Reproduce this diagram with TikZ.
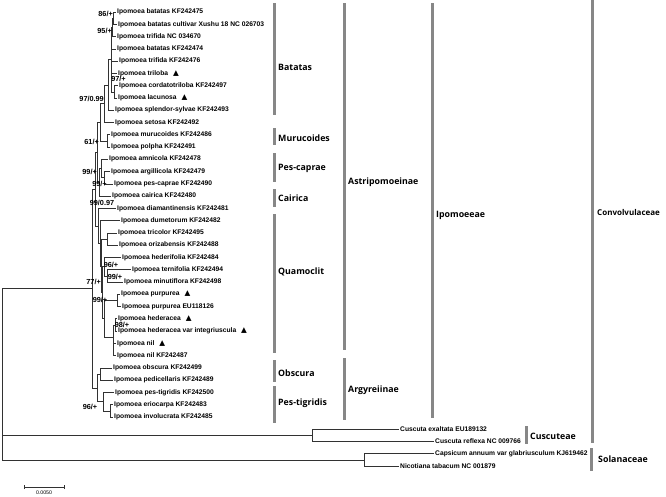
\documentclass[tikz,border=0pt]{standalone}
\usepackage{fontspec}
\setmainfont{Liberation Sans}
\newfontfamily\cladefont{Open Sans}
\newfontfamily\symfont{DejaVu Sans}
\definecolor{bargray}{RGB}{135,135,135}
\definecolor{treegray}{RGB}{50,50,50}
\tikzset{
  branch/.style={draw=treegray, line width=0.55pt},
  leaf/.style={anchor=west, inner xsep=1pt, inner ysep=0pt, font=\fontsize{6.7}{7}\selectfont\bfseries},
  support/.style={inner sep=0pt, font=\fontsize{7.3}{8}\selectfont\bfseries},
  cladebar/.style={draw=bargray, line width=3pt},
  cladename/.style={anchor=west, inner sep=0pt, font=\fontsize{8.8}{9}\selectfont\cladefont\bfseries},
  rankname/.style={anchor=west, inner sep=0pt, font=\fontsize{8.8}{9}\selectfont\cladefont\bfseries},
}
\newcommand{\tri}{\hspace{5pt}{\fontsize{7.5}{7.5}\symfont ▲}}
\begin{document}
\begin{tikzpicture}[x=1pt,y=-1pt]
\useasboundingbox (0,0) rectangle (666,496);
% tips
\foreach \n/\x/\t in {
  1/116/{Ipomoea batatas KF242475},
  2/117/{Ipomoea batatas cultivar Xushu 18 NC 026703},
  3/116/{Ipomoea trifida NC 034670},
  4/116/{Ipomoea batatas KF242474},
  5/118/{Ipomoea trifida KF242476},
  6/117/{Ipomoea triloba\tri},
  7/118/{Ipomoea cordatotriloba KF242497},
  8/117/{Ipomoea lacunosa\tri},
  9/114/{Ipomoea splendor-sylvae KF242493},
  10/114/{Ipomoea setosa KF242492},
  11/110/{Ipomoea murucoides KF242486},
  12/110/{Ipomoea polpha KF242491},
  13/108/{Ipomoea amnicola KF242478},
  14/110/{Ipomoea argillicola KF242479},
  15/113/{Ipomoea pes-caprae KF242490},
  16/111/{Ipomoea cairica KF242480},
  17/116/{Ipomoea diamantinensis KF242481},
  18/120/{Ipomoea dumetorum KF242482},
  19/117/{Ipomoea tricolor KF242495},
  20/118/{Ipomoea orizabensis KF242488},
  21/121/{Ipomoea hederifolia KF242484},
  22/131/{Ipomoea ternifolia KF242494},
  23/123/{Ipomoea minutiflora KF242498},
  24/120/{Ipomoea purpurea\tri},
  25/121/{Ipomoea purpurea EU118126},
  26/117/{Ipomoea hederacea\tri},
  27/117/{Ipomoea hederacea var integriuscula\tri},
  28/116/{Ipomoea nil\tri},
  29/116/{Ipomoea nil KF242487},
  30/112/{Ipomoea obscura KF242499},
  31/113/{Ipomoea pedicellaris KF242489},
  32/114/{Ipomoea pes-tigridis KF242500},
  33/113/{Ipomoea eriocarpa KF242483},
  34/113/{Ipomoea involucrata KF242485},
  35/399/{Cuscuta exaltata EU189132},
  36/434/{Cuscuta reflexa NC 009766},
  37/434/{Capsicum annuum var glabriusculum KJ619462},
  38/399/{Nicotiana tabacum NC 001879}}
  \node[leaf] (l\n) at (\x,{12+(\n-1)*12.27}) {\t};
% internal nodes
\coordinate (bb) at (113,18.2);
\coordinate (b95) at (112,27.4);
\coordinate (cl) at (114,91.8);
\coordinate (bat1) at (111,59.6);
\coordinate (bat2) at (108,84.9);
\coordinate (bs) at (104,103.7);
\coordinate (mu) at (107,140.8);
\coordinate (s61) at (100,122.3);
\coordinate (pc2) at (104,177.7);
\coordinate (pc) at (101,168.4);
\coordinate (pcc) at (99,182.3);
\coordinate (up) at (97,152.3);
\coordinate (to) at (107,239.1);
\coordinate (tm) at (107,275.9);
\coordinate (hm) at (104,266.7);
\coordinate (pp) at (117,300.4);
\coordinate (hh) at (115,324.9);
\coordinate (hn) at (113,337);
\coordinate (pn) at (104,318.7);
\coordinate (s77) at (102,292.7);
\coordinate (q2) at (101,265.9);
\coordinate (q) at (100,243.3);
\coordinate (lo) at (98,225.8);
\coordinate (astri) at (95,189.1);
\coordinate (obs) at (100,374);
\coordinate (ei) at (110,410.9);
\coordinate (pt) at (103,401.6);
\coordinate (argy) at (97,387.8);
\coordinate (ipo) at (92,288.5);
\coordinate (cus) at (312,435.4);
\coordinate (sol) at (364,460);
\coordinate (root) at (2,374);
% branches
\foreach \p/\c in {bb/l1.west, bb/l2.west, b95/bb, b95/l3.west,
  cl/l7.west, cl/l8.west, bat1/b95, bat1/l4.west, bat1/l5.west,
  bat1/l6.west, bat1/cl, bat2/bat1, bat2/l9.west, bs/bat2, bs/l10.west,
  mu/l11.west, mu/l12.west, s61/bs, s61/mu, pc2/l14.west, pc2/l15.west,
  pc/l13.west, pc/pc2, pcc/pc, pcc/l16.west, up/s61, up/pcc,
  to/l19.west, to/l20.west, tm/l22.west, tm/l23.west, hm/l21.west, hm/tm,
  pp/l24.west, pp/l25.west, hh/l26.west, hh/l27.west, hn/hh,
  hn/l28.west, hn/l29.west, pn/pp, pn/hn, s77/hm, s77/pn, q2/to, q2/s77,
  q/l18.west, q/q2, lo/l17.west, lo/q, astri/up, astri/lo,
  obs/l30.west, obs/l31.west, ei/l33.west, ei/l34.west, pt/l32.west, pt/ei,
  argy/obs, argy/pt, ipo/astri, ipo/argy,
  cus/l35.west, cus/l36.west, sol/l37.west, sol/l38.west,
  root/ipo, root/cus, root/sol}
  \draw[branch] (\p) |- (\c);
% support values
\node[support, anchor=east] (sv1) at (113,14) {86/+};
\node[support, anchor=east] (sv2) at (112,31) {95/+};
\node[support] (sv3) at (118.5,78.5) {97/+};
\node[support, anchor=east] (sv4) at (104,99) {97/0.99};
\node[support, anchor=east] (sv5) at (99,142) {61/+};
\node[support, anchor=east] (sv6) at (97,172) {99/+};
\node[support] (sv7) at (99.5,184) {99/+};
\node[support] (sv8) at (102,203) {99/0.97};
\node[support] (sv9) at (111,265) {96/+};
\node[support] (sv10) at (115,277) {99/+};
\node[support, anchor=east] (sv11) at (101,282) {77/+};
\node[support] (sv12) at (100,300) {99/+};
\node[support] (sv13) at (122,324.5) {98/+};
\node[support] (sv14) at (90,407) {96/+};
% clade bars
\foreach \bx/\ya/\yb in {274/3/115, 274/128/145, 274/153/182, 274/189/207,
  274/214/353, 274/360/382, 274/386/423, 344/3/350, 344/358/420,
  432/3/418, 592/0/443, 526/426/444, 591/448/471}
  \draw[cladebar] (\bx,\ya) -- (\bx,\yb);
\node[cladename] (batatas) at (278,67) {Batatas};
\node[cladename] (murucoides) at (278,138) {Murucoides};
\node[cladename] (pescaprae) at (278,168) {Pes-caprae};
\node[cladename] (cairica) at (278,198) {Cairica};
\node[cladename] (quamoclit) at (278,272) {Quamoclit};
\node[cladename] (obscura) at (278,373) {Obscura};
\node[cladename] (pestigridis) at (278,403) {Pes-tigridis};
\node[cladename] (astripomoeinae) at (348,182) {Astripomoeinae};
\node[cladename] (argyreiinae) at (348,390) {Argyreiinae};
\node[rankname] (ipomoeeae) at (436,215) {Ipomoeeae};
\node[rankname, font=\fontsize{8}{9}\selectfont\cladefont\bfseries] (convolvulaceae) at (597,212) {Convolvulaceae};
\node[cladename] (cuscuteae) at (530,436) {Cuscuteae};
\node[rankname] (solanaceae) at (598,459) {Solanaceae};
% scale bar
\coordinate (sbl) at (24,487);
\coordinate (sbr) at (64,487);
\draw[branch] (sbl) -- (sbr);
\draw[branch] ([yshift=-2pt]sbl) -- ([yshift=2pt]sbl);
\draw[branch] ([yshift=-2pt]sbr) -- ([yshift=2pt]sbr);
\node[inner sep=0pt, font=\fontsize{5.2}{6}\selectfont] (sblabel) at (44,493) {0.0050};
\end{tikzpicture}
\end{document}
